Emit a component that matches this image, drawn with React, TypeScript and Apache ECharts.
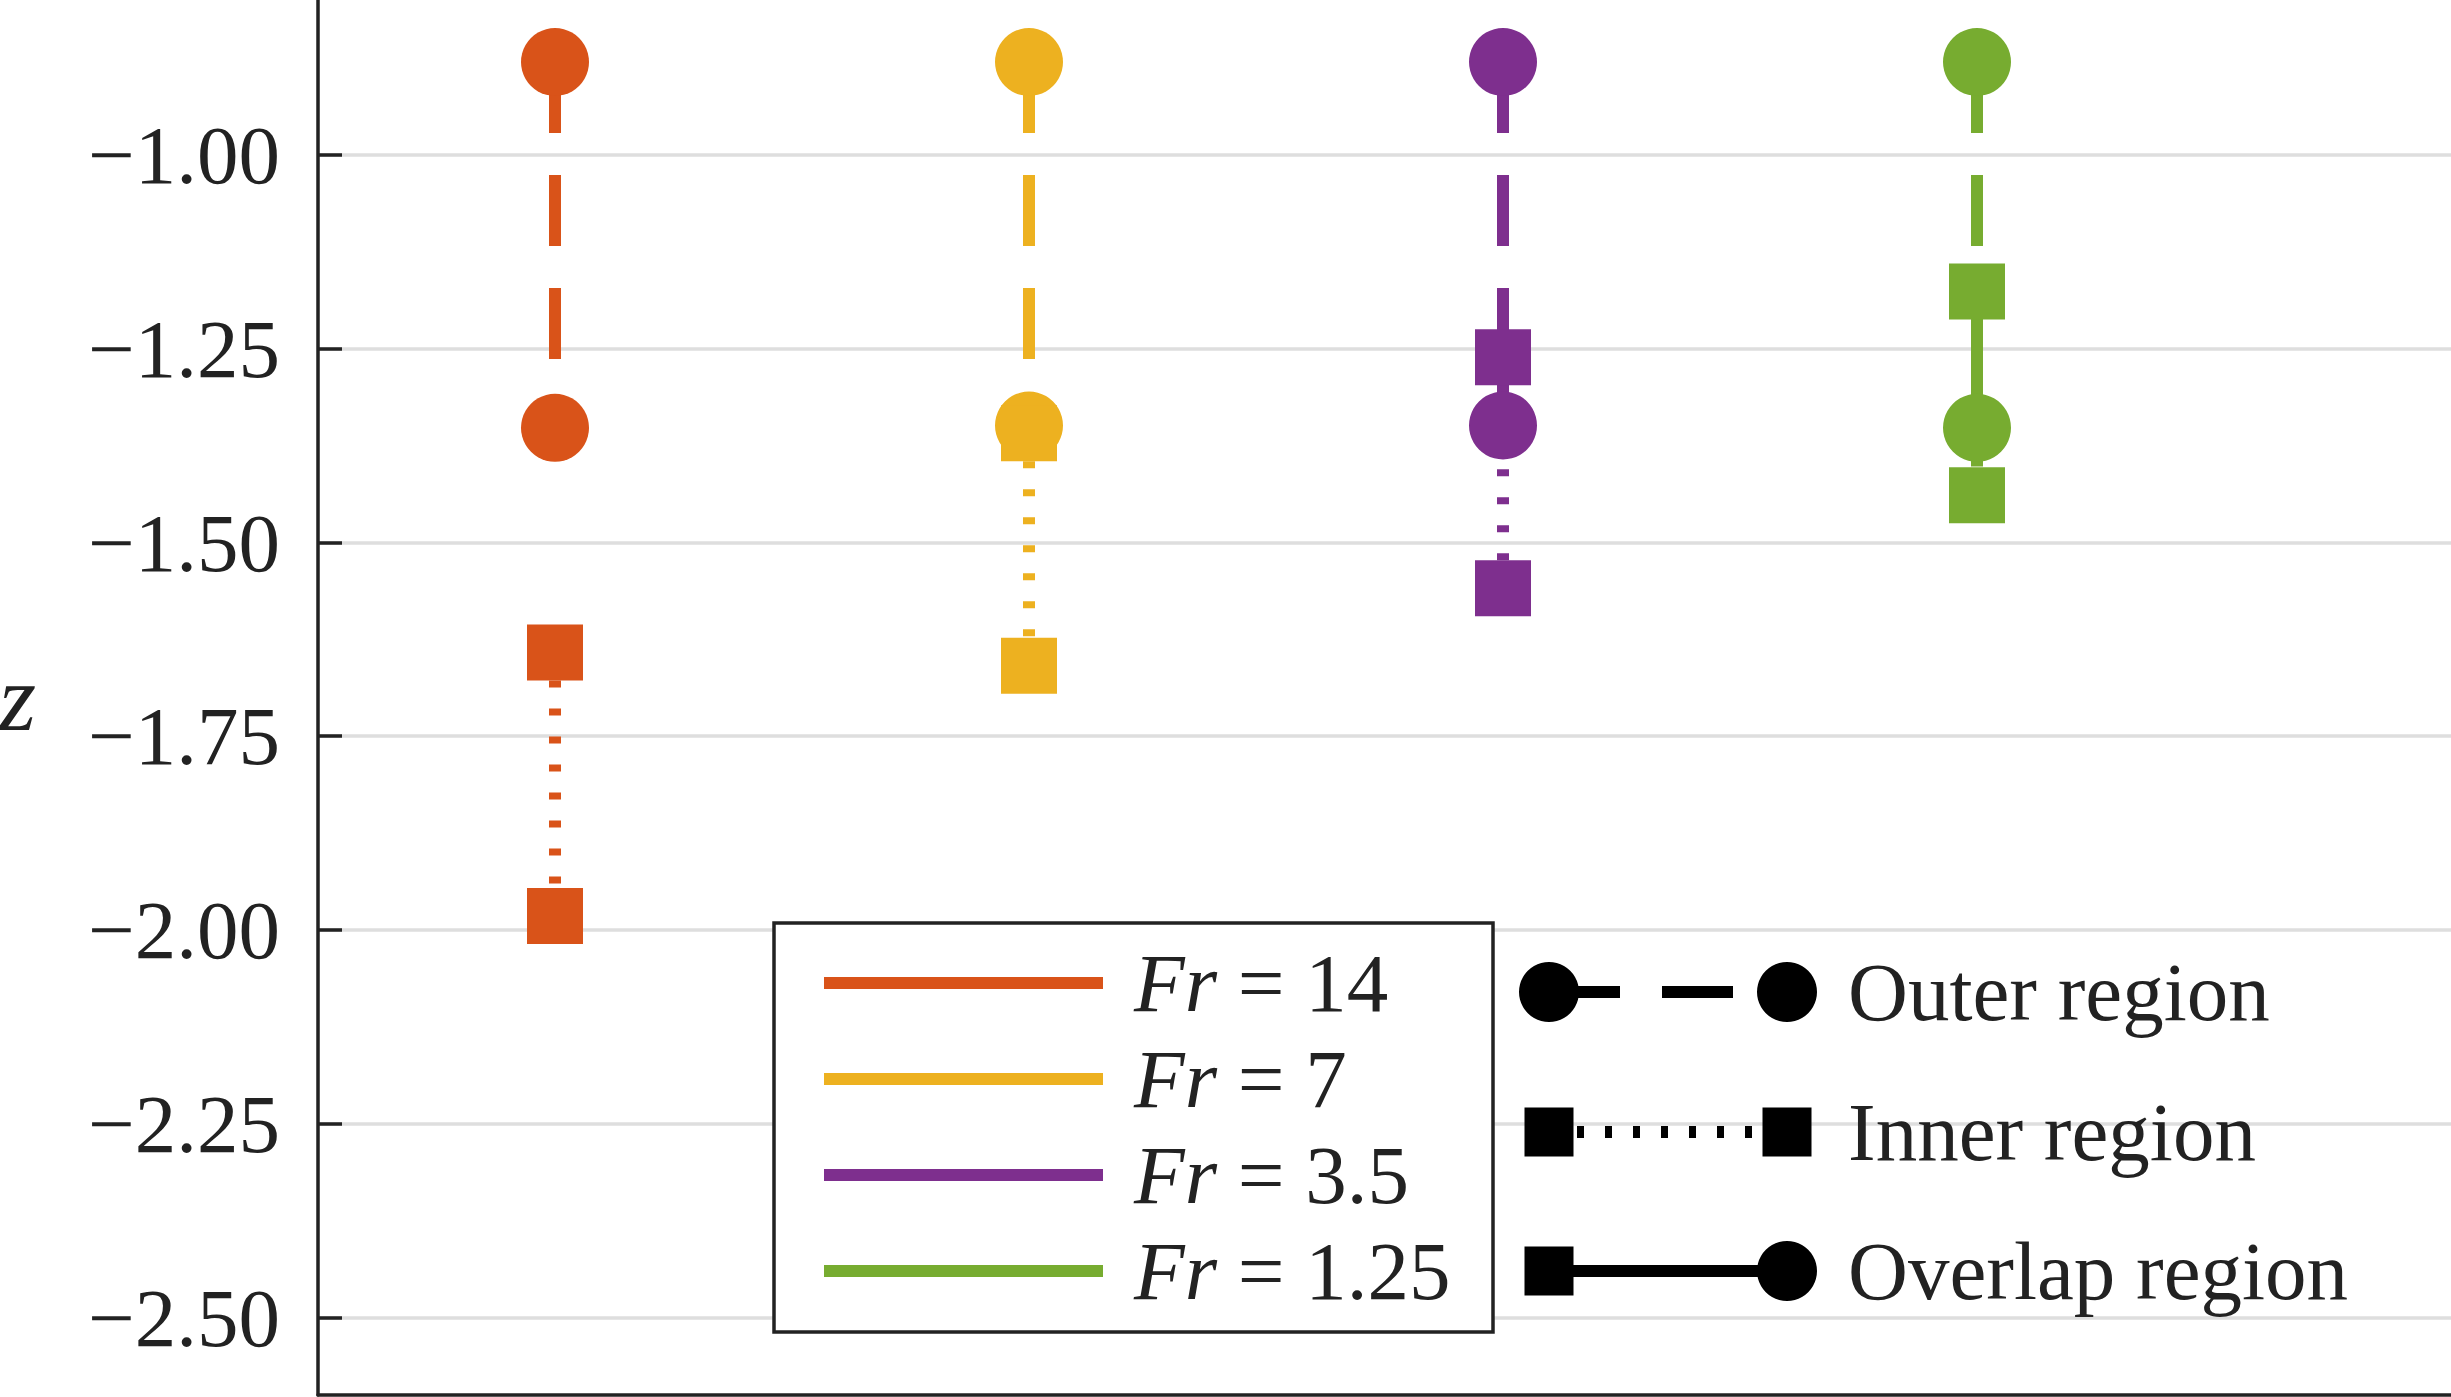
import { useEffect, useRef } from "react";
import * as echarts from "echarts";

// Froude numbers, one column each
const froudeLabels = ["14", "7", "3.5", "1.25"];
const columnX = [1, 2, 3, 4];

// vertical extent of the outer region (circles) and inner region (squares)
const outerTop = [-0.88, -0.88, -0.88, -0.88];
const outerBottom = [-1.352, -1.349, -1.349, -1.352];
const innerTop = [-1.642, -1.359, -1.261, -1.176];
const innerBottom = [-1.982, -1.659, -1.559, -1.439];

const zTicks = [-2.5, -2.25, -2.0, -1.75, -1.5, -1.25, -1.0];
const regionLabels = ["Outer region", "Inner region", "Overlap region"];

const COLORS = ["#D95319", "#EDB120", "#7E2F8E", "#77AC30"];
const INK = "#222222";
const GRID_GRAY = "#dedede";
const SERIF = '"Liberation Serif", "DejaVu Serif", serif';
const FONT = 83;
const LINE_W = 12;
const DASH = [71, 42];
const DOT = [7, 21];

function buildSeries() {
  const series: any[] = [];
  froudeLabels.forEach((fr, i) => {
    const x = columnX[i];
    const color = COLORS[i];
    series.push({
      type: "line",
      name: `Fr = ${fr}`,
      data: [
        [x, outerTop[i]],
        [x, outerBottom[i]],
      ],
      symbol: "none",
      silent: true,
      z: 2,
      lineStyle: { color, width: LINE_W, type: DASH, cap: "butt" },
    });
    series.push({
      type: "line",
      name: `Fr = ${fr} inner`,
      data: [
        [x, innerTop[i]],
        [x, innerBottom[i]],
      ],
      symbol: "none",
      silent: true,
      z: 2,
      lineStyle: { color, width: LINE_W, type: DOT, cap: "butt" },
    });
    if (innerTop[i] > outerBottom[i]) {
      series.push({
        type: "line",
        name: `Fr = ${fr} overlap`,
        data: [
          [x, innerTop[i]],
          [x, outerBottom[i]],
        ],
        symbol: "none",
        silent: true,
        z: 3,
        lineStyle: { color, width: LINE_W, type: "solid", cap: "butt" },
      });
    }
    series.push({
      type: "scatter",
      name: `Fr = ${fr} outer pts`,
      data: [
        [x, outerTop[i]],
        [x, outerBottom[i]],
      ],
      symbol: "circle",
      symbolSize: 68,
      silent: true,
      z: 4,
      itemStyle: { color, opacity: 1 },
    });
    series.push({
      type: "scatter",
      name: `Fr = ${fr} inner pts`,
      data: [
        [x, innerTop[i]],
        [x, innerBottom[i]],
      ],
      symbol: "rect",
      symbolSize: 56,
      silent: true,
      z: 4,
      itemStyle: { color, opacity: 1 },
    });
  });
  return series;
}

function buildLegends() {
  const els: any[] = [];
  // boxed colour legend
  els.push({
    type: "rect",
    shape: { x: 774, y: 923, width: 719, height: 409 },
    style: { fill: "#ffffff", stroke: INK, lineWidth: 3.5 },
  });
  const rowY = [983, 1079, 1175, 1271];
  froudeLabels.forEach((fr, i) => {
    els.push({
      type: "rect",
      shape: { x: 824, y: rowY[i] - LINE_W / 2, width: 279, height: LINE_W },
      style: { fill: COLORS[i] },
    });
    els.push({
      type: "text",
      x: 1134,
      y: rowY[i],
      style: {
        text: `{i|Fr} = ${fr}`,
        fontSize: FONT,
        fontFamily: SERIF,
        fill: INK,
        verticalAlign: "middle",
        rich: {
          i: { fontStyle: "italic", fontSize: FONT, fontFamily: SERIF, fill: INK },
        },
      },
    });
  });

  // line-style legend, no frame
  const x1 = 1549;
  const x2 = 1787;
  const ry = [992, 1132, 1271];
  const dashes = [DASH, DOT, null];
  const circle = (cx: number, cy: number) => ({
    type: "circle",
    shape: { cx, cy, r: 30 },
    style: { fill: "#000" },
  });
  const square = (cx: number, cy: number) => ({
    type: "rect",
    shape: { x: cx - 24.5, y: cy - 24.5, width: 49, height: 49 },
    style: { fill: "#000" },
  });
  regionLabels.forEach((label, k) => {
    els.push({
      type: "line",
      shape: { x1, y1: ry[k], x2, y2: ry[k] },
      style: {
        stroke: "#000",
        lineWidth: LINE_W,
        lineDash: dashes[k] || undefined,
        lineCap: "butt",
      },
    });
    if (k === 0) els.push(circle(x1, ry[k]), circle(x2, ry[k]));
    if (k === 1) els.push(square(x1, ry[k]), square(x2, ry[k]));
    if (k === 2) els.push(square(x1, ry[k]), circle(x2, ry[k]));
    els.push({
      type: "text",
      x: 1848,
      y: ry[k],
      style: {
        text: label,
        fontSize: FONT,
        fontFamily: SERIF,
        fill: INK,
        verticalAlign: "middle",
      },
    });
  });
  return els.map((e) => ({ ...e, z: 100 }));
}

export default function App() {
  const chartRef = useRef<HTMLDivElement>(null);

  useEffect(() => {
    if (!chartRef.current) return;
    const chart = echarts.init(chartRef.current, null, { renderer: "svg" });

    chart.setOption({
      animation: false,
      backgroundColor: "#ffffff",
      grid: { left: 318, right: 0, top: 0, bottom: 2, outerBoundsMode: "none" },
      xAxis: {
        type: "value",
        min: 0.5,
        max: 5,
        axisLine: { show: true, lineStyle: { color: INK, width: 3.5 } },
        axisTick: { show: false },
        axisLabel: { show: false },
        splitLine: { show: false },
      },
      yAxis: {
        type: "value",
        min: -2.6,
        max: -0.8,
        name: "z",
        nameLocation: "middle",
        nameRotate: 0,
        nameGap: 282,
        nameTextStyle: {
          fontFamily: SERIF,
          fontStyle: "italic",
          fontSize: 96,
          color: INK,
        },
        axisLine: { show: true, lineStyle: { color: INK, width: 3.5 } },
        axisTick: {
          show: true,
          inside: true,
          length: 24,
          customValues: zTicks,
          lineStyle: { color: INK, width: 3.5 },
        },
        axisLabel: {
          customValues: zTicks,
          formatter: (v: number) => "\u2212" + Math.abs(v).toFixed(2),
          fontFamily: SERIF,
          fontSize: FONT,
          color: INK,
          margin: 38,
        },
        splitLine: { show: true, lineStyle: { color: GRID_GRAY, width: 3.5 } },
      },
      series: buildSeries(),
      graphic: buildLegends(),
    });

    return () => {
      chart.dispose();
    };
  }, []);

  return (
    <div
      ref={chartRef}
      style={{ position: "absolute", left: 0, top: 0, width: 2451, height: 1397 }}
    />
  );
}
